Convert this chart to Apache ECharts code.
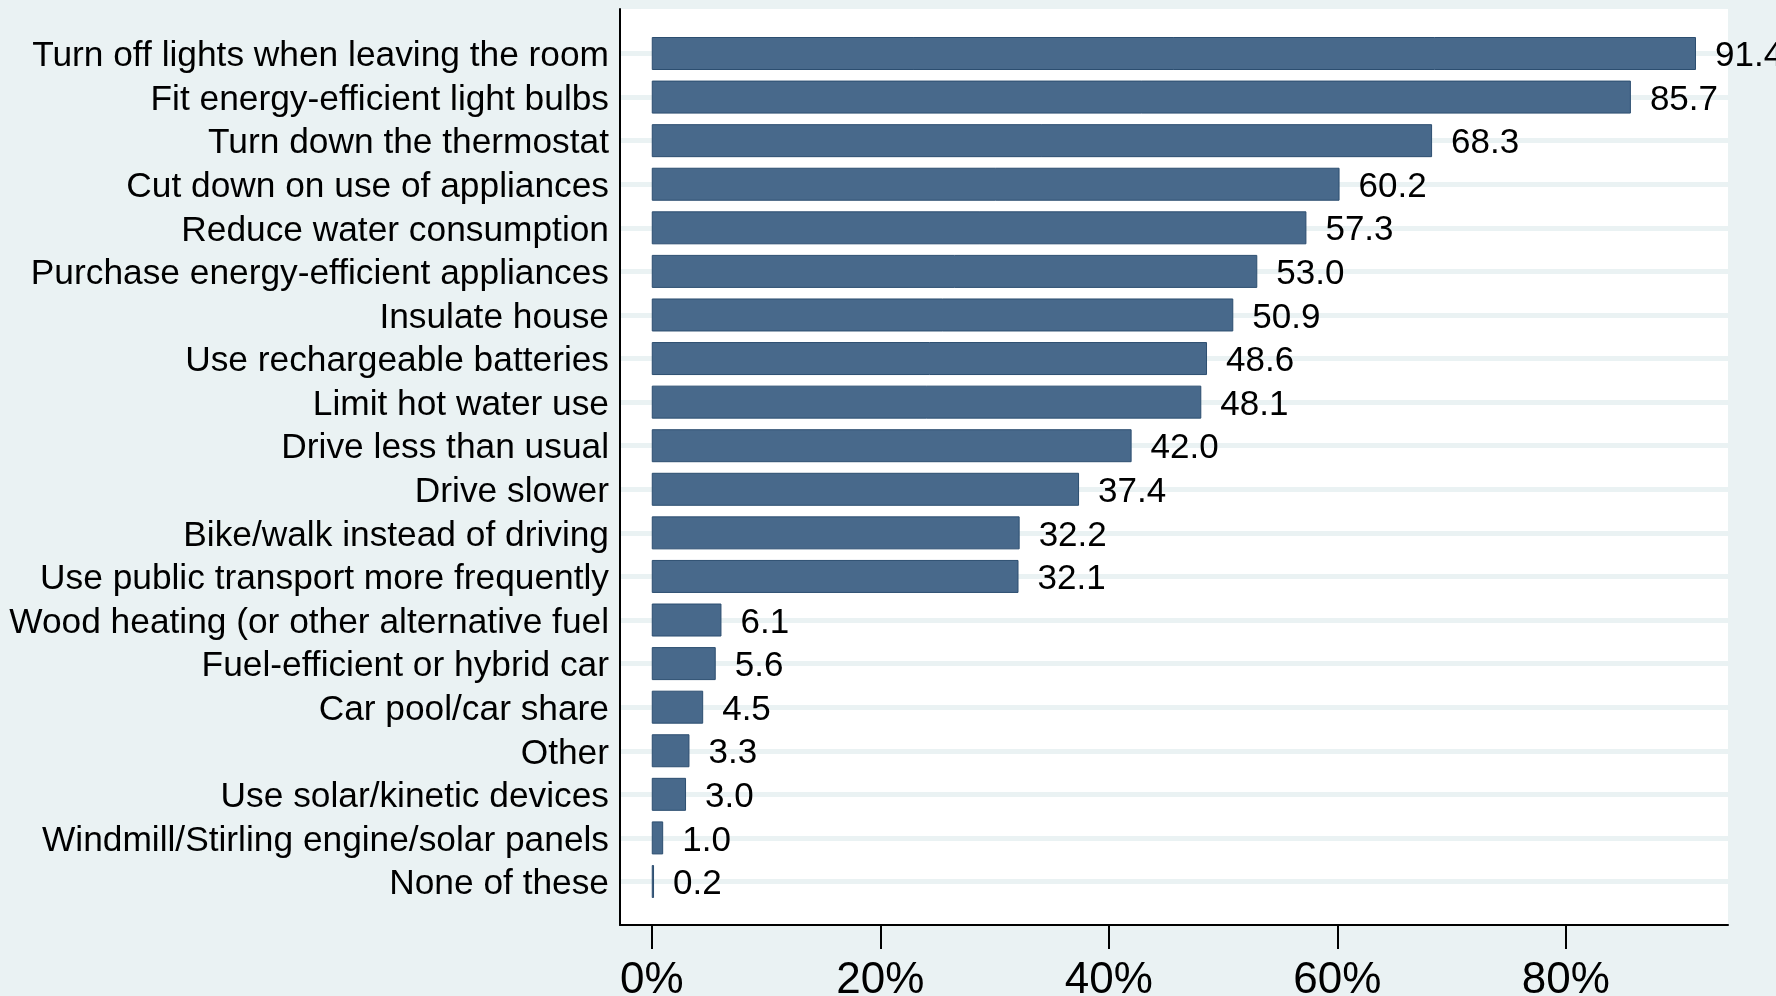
<!DOCTYPE html>
<html>
<head>
<meta charset="utf-8">
<script src="https://cdn.jsdelivr.net/npm/echarts@6/dist/echarts.min.js"></script>
<style>
	html, body { margin: 0; padding: 0; background: #eaf2f3; }
	#chart { width: 1776px; height: 996px; }
</style>
</head>
<body>
<div id="chart"></div>
<script>
var actions = [
	'Turn off lights when leaving the room',
	'Fit energy-efficient light bulbs',
	'Turn down the thermostat',
	'Cut down on use of appliances',
	'Reduce water consumption',
	'Purchase energy-efficient appliances',
	'Insulate house',
	'Use rechargeable batteries',
	'Limit hot water use',
	'Drive less than usual',
	'Drive slower',
	'Bike/walk instead of driving',
	'Use public transport more frequently',
	'Wood heating (or other alternative fuel',
	'Fuel-efficient or hybrid car',
	'Car pool/car share',
	'Other',
	'Use solar/kinetic devices',
	'Windmill/Stirling engine/solar panels',
	'None of these'
];
var percents = [91.4, 85.7, 68.3, 60.2, 57.3, 53.0, 50.9, 48.6, 48.1, 42.0,
	37.4, 32.2, 32.1, 6.1, 5.6, 4.5, 3.3, 3.0, 1.0, 0.2];
var xTicks = [0, 20, 40, 60, 80];

var font = '"Liberation Sans", Arial, sans-serif';
var xMin = -2.78, xMax = 94.2;

var chart = echarts.init(document.getElementById('chart'));
chart.setOption({
	backgroundColor: '#eaf2f3',
	animation: false,
	grid: [{
		// plot region with the axes
		left: 620, right: 48, top: 9, bottom: 71,
		outerBoundsMode: 'none',
		show: true, backgroundColor: '#ffffff', borderWidth: 0
	}, {
		// bars, first and last category on the edges
		left: 620, right: 48, top: 53.5, bottom: 114.5,
		outerBoundsMode: 'none'
	}],
	xAxis: [{
		gridIndex: 0,
		type: 'value',
		min: xMin, max: xMax,
		axisLine: { show: true, onZero: false, lineStyle: { color: '#000', width: 2 } },
		axisTick: { show: true, customValues: xTicks, length: 24, lineStyle: { color: '#000', width: 2 } },
		axisLabel: {
			customValues: xTicks, margin: 34,
			fontFamily: font, fontSize: 44, color: '#000',
			formatter: function(v) { return v + '%'; }
		},
		splitLine: { show: false }
	}, {
		gridIndex: 1,
		type: 'value',
		min: xMin, max: xMax,
		show: false
	}],
	yAxis: [{
		gridIndex: 0,
		type: 'value',
		axisLine: { show: true, onZero: false, lineStyle: { color: '#000', width: 2 } },
		axisTick: { show: false },
		axisLabel: { show: false },
		splitLine: { show: false }
	}, {
		gridIndex: 1,
		type: 'category',
		data: actions,
		inverse: true,
		boundaryGap: false,
		axisLine: { show: false },
		axisTick: { show: false },
		axisLabel: {
			interval: 0, margin: 11,
			formatter: function(v) { return '{t|' + v + '}'; },
			rich: {
				t: { fontFamily: font, fontSize: 35.3, color: '#000', padding: [6, 0, 0, 0] }
			}
		},
		splitLine: { show: true, interval: 0, lineStyle: { color: '#eaf2f3', width: 5 } }
	}],
	series: [{
		type: 'bar',
		xAxisIndex: 1,
		yAxisIndex: 1,
		data: percents,
		barWidth: 33,
		itemStyle: { color: '#48698b', borderColor: '#2c4e70', borderWidth: 1 },
		label: {
			show: true, position: 'right', distance: 19, offset: [0, 3],
			fontFamily: font, fontSize: 35, color: '#000',
			formatter: function(p) { return p.value.toFixed(1); }
		}
	}]
});
</script>
</body>
</html>
